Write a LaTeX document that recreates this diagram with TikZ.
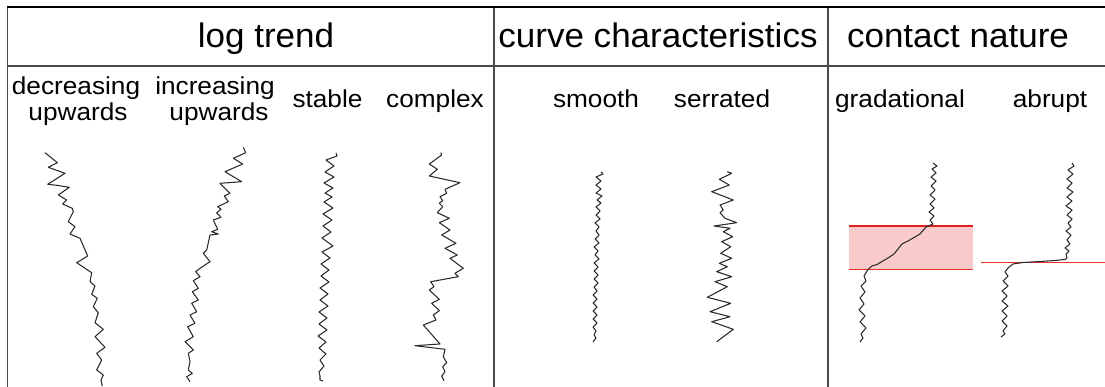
\documentclass[tikz,border=0pt]{standalone}
\usepackage{fontspec}
\setmainfont{Liberation Sans}
\newfontfamily\headfont[FakeStretch=1.03]{Liberation Sans}
\newfontfamily\subfont[FakeStretch=1.07]{Liberation Sans}
\definecolor{gridc}{HTML}{4A4A4A}
\definecolor{logc}{HTML}{2A2A2A}
\definecolor{zonefill}{HTML}{F8CACA}
\definecolor{zoneline}{HTML}{E02020}
\definecolor{zoneline2}{HTML}{E83030}
\tikzset{
  gridline/.style={draw=gridc, line width=1.5pt},
  topline/.style={draw=black, line width=1.6pt},
  logline/.style={draw=logc, line width=1.05pt, line join=round},
  redline/.style={draw=zoneline, line width=1.5pt},
  headtxt/.style={anchor=base, inner sep=0pt, font=\headfont\fontsize{34}{36}\selectfont},
  subtxt/.style={anchor=base, inner sep=0pt, font=\subfont\fontsize{24.5}{26}\selectfont},
}
\begin{document}
\begin{tikzpicture}[x=1pt,y=-1pt]
\useasboundingbox (0,0) rectangle (1105,387);
\fill[white] (0,0) rectangle (1105,387);
% table frame
\draw[gridline] (7.5,387) -- (7.5,7);
\draw[gridline] (494,7) -- (494,387);
\draw[gridline] (828,7) -- (828,387);
\draw[gridline] (7.5,66) -- (1105,66);
\draw[topline] (6.7,7) -- (1105,7);
% headers
\node[headtxt] (hlog) at (266,47.5) {log trend};
\node[headtxt] (hcurve) at (658,47.5) {curve characteristics};
\node[headtxt] (hcontact) at (958,47.5) {contact nature};
% sub headers
\node[subtxt] (sdec1) at (76,95) {decreasing};
\node[subtxt] (sdec2) at (78,120.5) {upwards};
\node[subtxt] (sinc1) at (215,95) {increasing};
\node[subtxt] (sinc2) at (219,120.5) {upwards};
\node[subtxt] (sstab) at (327.5,108) {stable};
\node[subtxt] (scomp) at (435,108) {complex};
\node[subtxt] (ssmooth) at (596,108) {smooth};
\node[subtxt] (sserr) at (722,108) {serrated};
\node[subtxt] (sgrad) at (900,108) {gradational};
\node[subtxt] (sabr) at (1050,108) {abrupt};
% transition zone (gradational)
\fill[zonefill] (849.3,226) rectangle (972.7,269.3);
\draw[redline] (849.3,226) -- (972.7,226);
\draw[redline, draw=zoneline2] (849.3,269.3) -- (972.7,269.3);
% abrupt contact line
\draw[redline, draw=zoneline2] (980.7,262.7) -- (1105,262.7);
% decreasing upwards
\draw[logline] (45,152.7) -- (57.3,162.7) -- (48.3,167.3) -- (65,173.3) -- (47.7,184.3) -- (56.7,185.3) -- (69.3,187.3) -- (58.3,195) -- (66.7,200) -- (62.7,204) -- (72.3,208.3) -- (73.3,211.7) -- (68.3,221.7) -- (75,226.7) -- (70,234) -- (80,238.3) -- (87.7,256) -- (76.7,262.7) -- (91.7,272.7) -- (90,281.7) -- (95,286) -- (91.7,294.3) -- (97.3,298.3) -- (93.3,306.7) -- (98.3,312.7) -- (95,322.7) -- (103.3,329.3) -- (95,336.7) -- (105,347.3) -- (96.7,353.3) -- (101.7,360) -- (96.7,370) -- (103.3,375) -- (101,380) -- (102.3,386);
% increasing upwards
\draw[logline] (243.3,147.3) -- (245.7,152.7) -- (233.3,158.3) -- (242.7,164) -- (225,171.7) -- (241.7,181.7) -- (220,183.3) -- (230,193.3) -- (224.3,196) -- (228.3,201.7) -- (217.7,206.7) -- (221,209.3) -- (216.7,212.7) -- (221,217.3) -- (213.3,220) -- (217.7,229.3) -- (211.7,231.7) -- (218.3,234) -- (210,235) -- (206.7,250) -- (203.3,253.3) -- (210,261.7) -- (200,268.3) -- (195.7,271.7) -- (200,276.7) -- (193.3,280.7) -- (198.3,288.3) -- (192.3,291.7) -- (198.3,300) -- (191.7,303.3) -- (196.7,311.7) -- (190,315) -- (195,323.3) -- (187.7,326.7) -- (193.3,336.7) -- (185,341.7) -- (193.3,350) -- (188.3,353.3) -- (190,361.7) -- (188.3,370) -- (192.3,373.3) -- (186.7,376.7) -- (190,381.7);
% stable
\draw[logline] (336,153) -- (337,156) -- (326,160) -- (334,166) -- (325,172) -- (334,177) -- (324,183) -- (333,188) -- (325,193) -- (332,197) -- (324,202) -- (333,208) -- (323,214) -- (332,220) -- (323,226) -- (331,232) -- (322,238) -- (333,246) -- (322,252) -- (330,258) -- (321,264) -- (329,270) -- (321,276) -- (329,282) -- (320,288) -- (328,294) -- (320,300) -- (328,306) -- (319,312) -- (327,318) -- (319,324) -- (327,330) -- (318,336) -- (326,342) -- (319,348) -- (326,354) -- (320,360) -- (324,366) -- (319,372) -- (320,376) -- (320,380) -- (323,381);
% complex
\draw[logline] (440.7,152.7) -- (441.7,155) -- (429.3,164) -- (437.3,169.3) -- (429.3,176) -- (460,182.7) -- (445,189.3) -- (446.7,193.3) -- (440,196.7) -- (442.7,200.7) -- (439.3,203.3) -- (442.7,206.7) -- (437.3,212.7) -- (449.3,218.3) -- (439.3,222.7) -- (450,230) -- (441.7,235) -- (456,243.3) -- (445,248.3) -- (457.3,255) -- (450,258.3) -- (463.3,268.3) -- (455,273.3) -- (458.3,276.7) -- (430.7,281.7) -- (434,286.7) -- (429.3,290) -- (439.3,299.3) -- (431.7,303.3) -- (439.3,310.7) -- (433.3,315) -- (436,320) -- (423.3,325) -- (440,344) -- (415,345.7) -- (445,349.3) -- (443.3,356.7) -- (446.7,362.7) -- (442.7,366.7) -- (445,371.7) -- (441.7,376) -- (444,380.7);
% smooth
\draw[logline] (601,172) -- (603,174) -- (596,177) -- (601,181) -- (596,185) -- (601,189) -- (596,193) -- (602,196) -- (597,200) -- (601,203) -- (596,207) -- (600,211) -- (596,215) -- (600,219) -- (595,223) -- (599,227) -- (596,231) -- (599,235) -- (595,239) -- (599,243) -- (594,247) -- (598,251) -- (595,255) -- (599,259) -- (594,263) -- (598,267) -- (594,271) -- (598,275) -- (594,279) -- (598,283) -- (594,287) -- (597,291) -- (593,295) -- (597,299) -- (593,303) -- (597,307) -- (593,311) -- (597,315) -- (593,319) -- (597,323) -- (593,327) -- (596,331) -- (594,335) -- (596,338) -- (593,342);
% serrated
\draw[logline] (727.3,171.7) -- (731.7,173.3) -- (719.3,179.3) -- (729.3,185) -- (711.7,191.7) -- (733.3,200) -- (720,205) -- (723.3,210) -- (720,212.7) -- (725,218.3) -- (736.7,222.7) -- (714,226) -- (730,228.3) -- (723.3,231.7) -- (732.7,236.7) -- (721.7,241.7) -- (730.7,246.7) -- (720.7,253.3) -- (731.7,258.3) -- (719.3,263.3) -- (727.3,266.7) -- (716.7,271.7) -- (731.7,276.7) -- (715,281.7) -- (727.3,286.7) -- (707.3,297.3) -- (730.7,303.3) -- (710,311.7) -- (730,316.7) -- (711.7,321.7) -- (733.3,329.3) -- (716.7,341.7);
% gradational
\draw[logline] (933,163) -- (937,166) -- (932,169) -- (936,173) -- (931,177) -- (936,181) -- (931,186) -- (935,190) -- (930,195) -- (935,199) -- (930,204) -- (934,208) -- (929,212) -- (934,216) -- (930,220) -- (933,224) -- (926,227) -- (920,234) -- (914,237.5) -- (908,241) -- (902,244) -- (898,249) -- (894,254) -- (888,258) -- (882,261.5) -- (877,264.5) -- (872,266) -- (868,269.5) -- (864,276) -- (866,281) -- (861,286) -- (865,292) -- (860,298) -- (864,304) -- (859,310) -- (865,316) -- (860,322) -- (866,328) -- (861,334) -- (863,338) -- (860,342);
% abrupt
\draw[logline] (1072,163) -- (1074,166) -- (1068,170) -- (1073,174) -- (1067,179) -- (1072,183) -- (1067,188) -- (1073,192) -- (1067,197) -- (1072,201) -- (1066,206) -- (1072,210) -- (1067,215) -- (1072,219) -- (1068,223) -- (1071,227) -- (1066,231) -- (1071,235) -- (1067,240) -- (1070,244) -- (1065,248) -- (1069,251) -- (1066,254) -- (1067,258) -- (1065,259.5) -- (1055,260.5) -- (1040,261.5) -- (1023,262.5) -- (1013,264) -- (1008,268) -- (1005,272) -- (1008,276) -- (1003,281) -- (1008,286) -- (1002,291) -- (1007,296) -- (1002,301) -- (1008,306) -- (1002,311) -- (1007,316) -- (1002,321) -- (1007,326) -- (1003,331) -- (1005,334) -- (1001,337);
\end{tikzpicture}
\end{document}
